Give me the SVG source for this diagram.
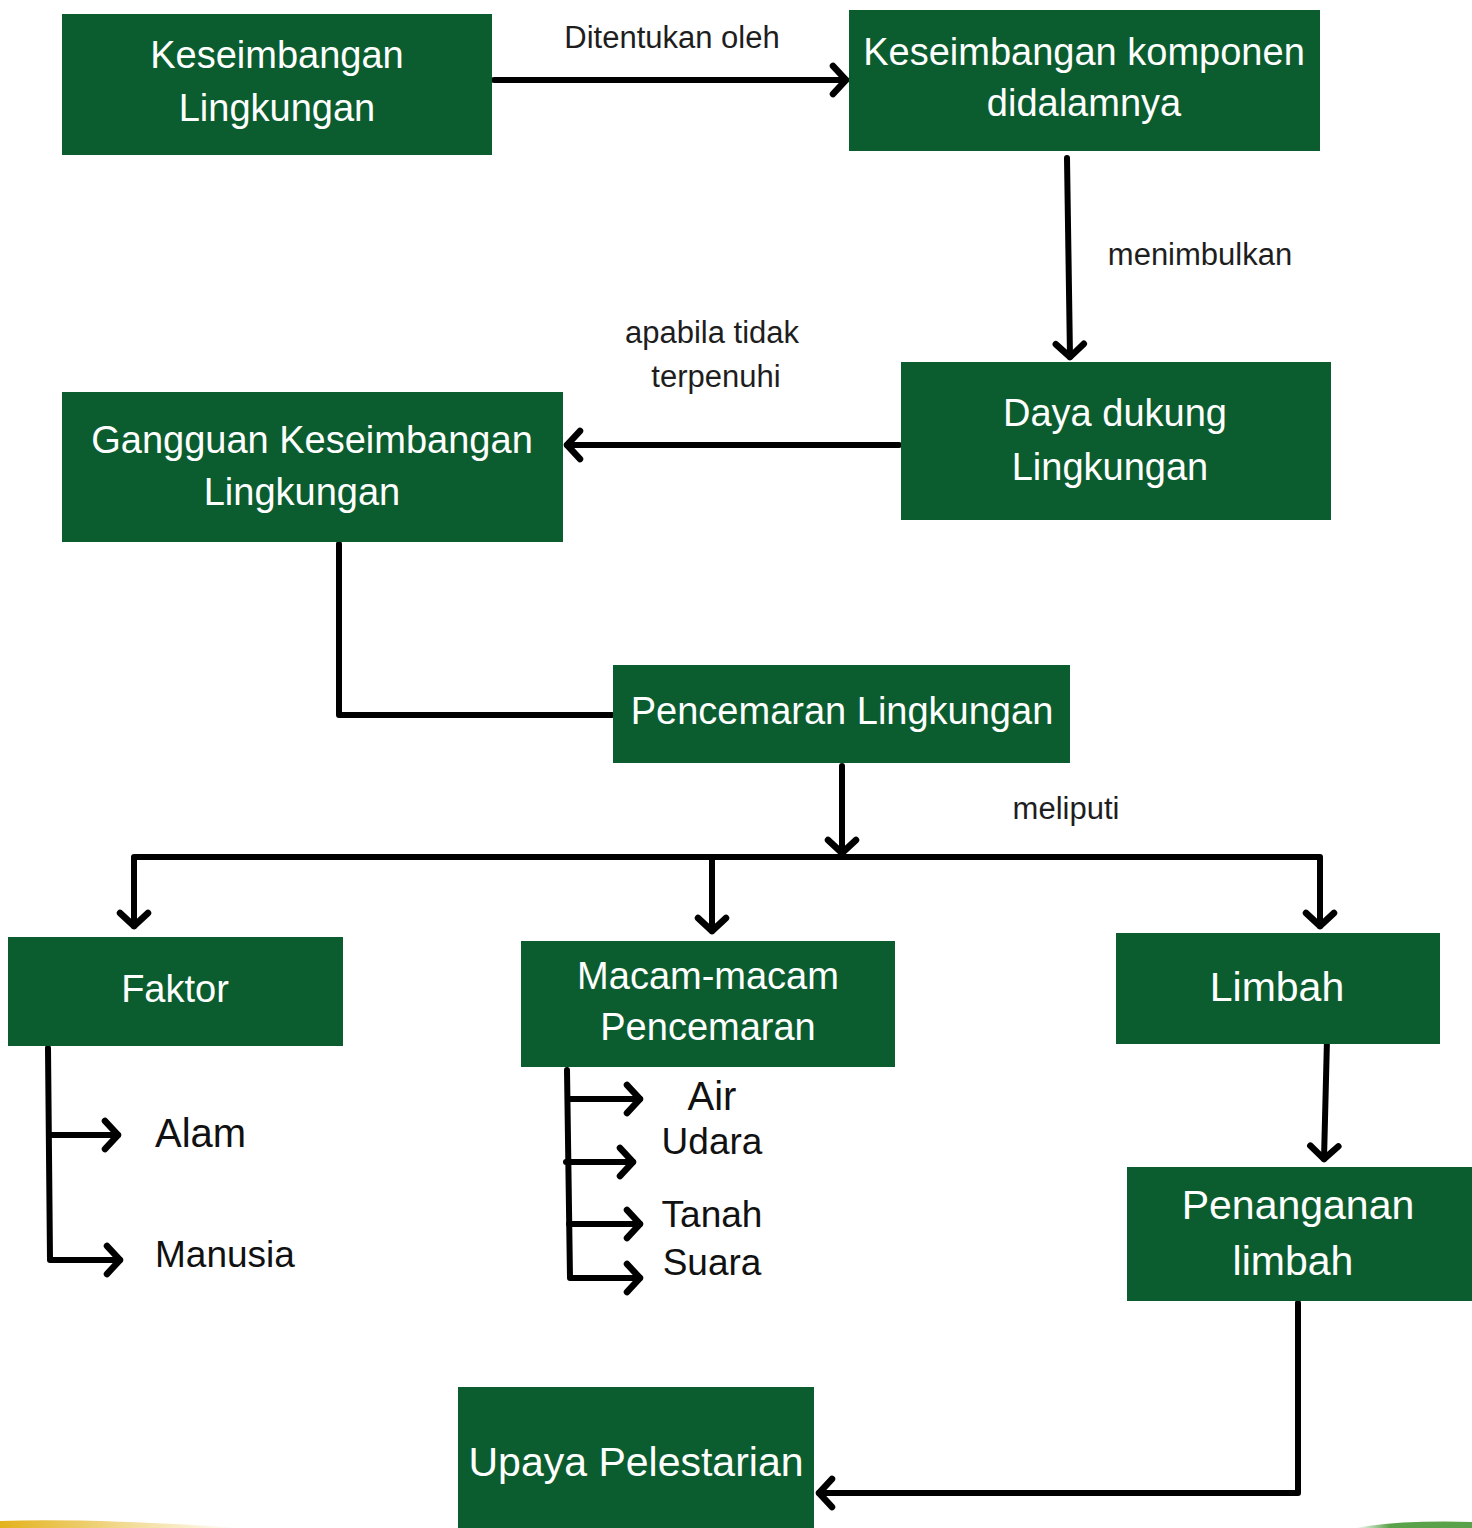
<svg xmlns="http://www.w3.org/2000/svg" width="1472" height="1528" viewBox="0 0 1472 1528">
<style>
.box{fill:#0b5d2f}
.t{font-family:"Liberation Sans",Arial,sans-serif;fill:#ffffff;font-size:38px;text-anchor:middle}
.tb{font-size:41px}
.l{font-family:"Liberation Sans",Arial,sans-serif;fill:#1e1e1e;font-size:31px;text-anchor:middle}
.i{font-family:"Liberation Sans",Arial,sans-serif;fill:#111111;font-size:37px}
.c{fill:none;stroke:#000;stroke-width:6;stroke-linecap:round;stroke-linejoin:round}
</style>
<defs>
<marker id="ah" markerUnits="userSpaceOnUse" viewBox="-20 -20 40 40" markerWidth="40" markerHeight="40" refX="0" refY="0" orient="auto">
<path d="M-13,-14 L0,0 L-13,14" fill="none" stroke="#000" stroke-width="6.5" stroke-linecap="round" stroke-linejoin="round"/>
</marker>
<linearGradient id="yg" x1="0" x2="1" y1="0" y2="0">
<stop offset="0" stop-color="#e3b21c"/>
<stop offset="1" stop-color="#e3b21c" stop-opacity="0"/>
</linearGradient>
<linearGradient id="gg" x1="0" x2="1" y1="0" y2="0">
<stop offset="0" stop-color="#5aa24a" stop-opacity="0"/>
<stop offset="0.3" stop-color="#5aa24a"/>
<stop offset="1" stop-color="#5aa24a"/>
</linearGradient>
</defs>
<rect width="1472" height="1528" fill="#ffffff"/>
<path d="M0,1521 Q90,1518 240,1528 L0,1528 Z" fill="url(#yg)"/>
<path d="M1355,1528 Q1400,1520 1472,1522 L1472,1528 Z" fill="url(#gg)"/>

<g id="connectors">
<line class="c" x1="494" y1="80" x2="846" y2="80" marker-end="url(#ah)"/>
<line class="c" x1="1067" y1="158" x2="1070" y2="357" marker-end="url(#ah)"/>
<line class="c" x1="899" y1="445" x2="567" y2="445" marker-end="url(#ah)"/>
<polyline class="c" points="339,544 339,715 612,715"/>
<line class="c" x1="842" y1="766" x2="842" y2="853" marker-end="url(#ah)"/>
<polyline class="c" points="134,926 134,857 1320,857 1320,926"/>
<line class="c" x1="134" y1="860" x2="134" y2="926" marker-end="url(#ah)"/>
<line class="c" x1="1320" y1="860" x2="1320" y2="926" marker-end="url(#ah)"/>
<line class="c" x1="712" y1="860" x2="712" y2="931" marker-end="url(#ah)"/>
<line class="c" x1="1327" y1="1039" x2="1324" y2="1159" marker-end="url(#ah)"/>
<polyline class="c" points="1298,1303 1298,1493 819,1493" marker-end="url(#ah)"/>
<polyline class="c" points="48,1048 50,1260 120,1260" marker-end="url(#ah)"/>
<line class="c" x1="49" y1="1135" x2="118" y2="1135" marker-end="url(#ah)"/>
<polyline class="c" points="567,1070 570,1278 640,1278" marker-end="url(#ah)"/>
<line class="c" x1="568" y1="1099" x2="640" y2="1099" marker-end="url(#ah)"/>
<line class="c" x1="566" y1="1162" x2="633" y2="1162" marker-end="url(#ah)"/>
<line class="c" x1="569" y1="1224" x2="640" y2="1224" marker-end="url(#ah)"/>
</g>

<g id="n1"><rect class="box" x="62" y="14" width="430" height="141"/>
<text class="t" x="277" y="68">Keseimbangan</text><text class="t" x="277" y="121">Lingkungan</text></g>
<g id="n2"><rect class="box" x="849" y="10" width="471" height="141"/>
<text class="t" x="1084" y="65">Keseimbangan komponen</text><text class="t" x="1084" y="116">didalamnya</text></g>
<g id="n3"><rect class="box" x="901" y="362" width="430" height="158"/>
<text class="t" x="1115" y="426">Daya dukung</text><text class="t" x="1110" y="480">Lingkungan</text></g>
<g id="n4"><rect class="box" x="62" y="392" width="501" height="150"/>
<text class="t" x="312" y="453">Gangguan Keseimbangan</text><text class="t" x="302" y="505">Lingkungan</text></g>
<g id="n5"><rect class="box" x="613" y="665" width="457" height="98"/>
<text class="t" x="842" y="724">Pencemaran Lingkungan</text></g>
<g id="n6"><rect class="box" x="8" y="937" width="335" height="109"/>
<text class="t" x="175" y="1002">Faktor</text></g>
<g id="n7"><rect class="box" x="521" y="941" width="374" height="126"/>
<text class="t" x="708" y="989">Macam-macam</text><text class="t" x="708" y="1040">Pencemaran</text></g>
<g id="n8"><rect class="box" x="1116" y="933" width="324" height="111"/>
<text class="t tb" x="1277" y="1001">Limbah</text></g>
<g id="n9"><rect class="box" x="1127" y="1167" width="345" height="134"/>
<text class="t tb" x="1298" y="1219">Penanganan</text><text class="t tb" x="1293" y="1275">limbah</text></g>
<g id="n10"><rect class="box" x="458" y="1387" width="356" height="141"/>
<text class="t tb" x="636" y="1476">Upaya Pelestarian</text></g>

<g id="labels">
<text class="l" x="672" y="48">Ditentukan oleh</text>
<text class="l" x="1200" y="265">menimbulkan</text>
<text class="l" x="712" y="343">apabila tidak</text>
<text class="l" x="716" y="387">terpenuhi</text>
<text class="l" x="1066" y="819">meliputi</text>
</g>
<g id="items">
<text class="i" x="155" y="1147" style="font-size:40px">Alam</text>
<text class="i" x="155" y="1267">Manusia</text>
<text class="i" x="712" y="1110" text-anchor="middle" style="font-size:40px">Air</text>
<text class="i" x="712" y="1154" text-anchor="middle">Udara</text>
<text class="i" x="712" y="1227" text-anchor="middle">Tanah</text>
<text class="i" x="712" y="1275" text-anchor="middle">Suara</text>
</g>
</svg>
